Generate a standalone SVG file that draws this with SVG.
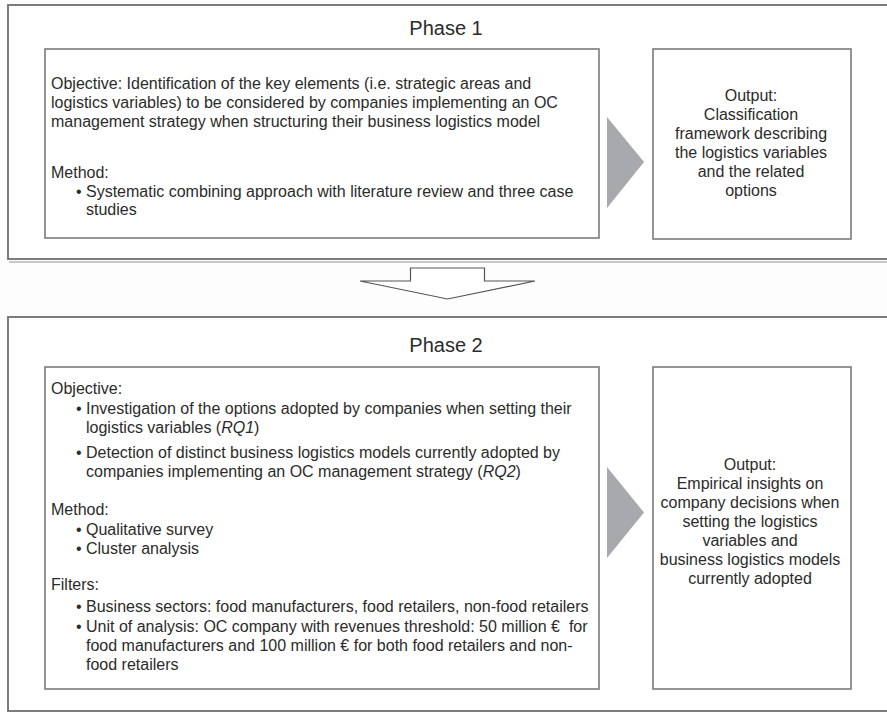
<svg xmlns="http://www.w3.org/2000/svg" width="887" height="712" viewBox="0 0 887 712">
<defs>
<style>
text{font-family:"Liberation Sans",Arial,sans-serif;font-size:16px;fill:#2b2b2b}
.title{font-size:20px;text-anchor:middle}
.mid{text-anchor:middle}
.outer{fill:#ffffff;stroke:#6e6e6e;stroke-width:1.8}
.shadow{fill:none;stroke:#c8c8c8;stroke-width:2}
.inner{fill:#ffffff;stroke:#7b7b7b;stroke-width:1.6}
.tri{fill:#a7a9ac;stroke:none}
.down{fill:#ffffff;stroke:#555555;stroke-width:1.2;stroke-linejoin:miter}
</style>
</defs>
<rect x="0" y="0" width="887" height="712" fill="#fdfdfd"/>

<g id="phase1">
<path class="shadow" d="M9,262 H890"/>
<rect class="outer" x="8" y="5" width="890" height="254"/>
<text class="title" x="446" y="35">Phase 1</text>
</g>

<g id="phase1-content">
<rect class="inner" x="45" y="49" width="554" height="189"/>
<text x="51" y="89">Objective: Identification of the key elements (i.e. strategic areas and</text>
<text x="51" y="108">logistics variables) to be considered by companies implementing an OC</text>
<text x="51" y="127">management strategy when structuring their business logistics model</text>
<text x="51" y="178">Method:</text>
<text x="76" y="197">•</text>
<text x="86" y="197">Systematic combining approach with literature review and three case</text>
<text x="86" y="215">studies</text>
</g>

<g id="phase1-output">
<rect class="inner" x="653" y="49" width="198" height="190"/>
<text class="mid" x="751" y="101">Output:</text>
<text class="mid" x="751" y="120">Classification</text>
<text class="mid" x="751" y="139">framework describing</text>
<text class="mid" x="751" y="158">the logistics variables</text>
<text class="mid" x="751" y="177">and the related</text>
<text class="mid" x="751" y="196">options</text>
</g>

<g id="phase2">
<rect class="outer" x="8" y="317" width="890" height="394"/>
<text class="title" x="446" y="352">Phase 2</text>
</g>

<g id="phase2-content">
<rect class="inner" x="45" y="367" width="554" height="322"/>
<text x="51" y="394">Objective:</text>
<text x="76" y="414">•</text>
<text x="86" y="414">Investigation of the options adopted by companies when setting their</text>
<text x="86" y="433">logistics variables (<tspan font-style="italic">RQ1</tspan>)</text>
<text x="76" y="458">•</text>
<text x="86" y="458">Detection of distinct business logistics models currently adopted by</text>
<text x="86" y="477">companies implementing an OC management strategy (<tspan font-style="italic">RQ2</tspan>)</text>
<text x="51" y="515">Method:</text>
<text x="76" y="535">•</text>
<text x="86" y="535">Qualitative survey</text>
<text x="76" y="554">•</text>
<text x="86" y="554">Cluster analysis</text>
<text x="51" y="590">Filters:</text>
<text x="76" y="612">•</text>
<text x="86" y="612">Business sectors: food manufacturers, food retailers, non-food retailers</text>
<text x="76" y="632">•</text>
<text x="86" y="632" xml:space="preserve">Unit of analysis: OC company with revenues threshold: 50 million €  for</text>
<text x="86" y="651">food manufacturers and 100 million € for both food retailers and non-</text>
<text x="86" y="670">food retailers</text>
</g>

<g id="phase2-output">
<rect class="inner" x="653" y="367" width="198" height="322"/>
<text class="mid" x="750" y="470">Output:</text>
<text class="mid" x="750" y="489">Empirical insights on</text>
<text class="mid" x="750" y="508">company decisions when</text>
<text class="mid" x="750" y="527">setting the logistics</text>
<text class="mid" x="750" y="546">variables and</text>
<text class="mid" x="750" y="565">business logistics models</text>
<text class="mid" x="750" y="584">currently adopted</text>
</g>

<g id="connectors">
<polygon class="tri" points="607,117 644,162 607,208"/>
<polygon class="tri" points="607,467 644,512.5 607,558"/>
<polygon class="down" points="410.5,268 484.5,268 484.5,281 535,281 447.5,299 360,281 410.5,281"/>
</g>
</svg>
